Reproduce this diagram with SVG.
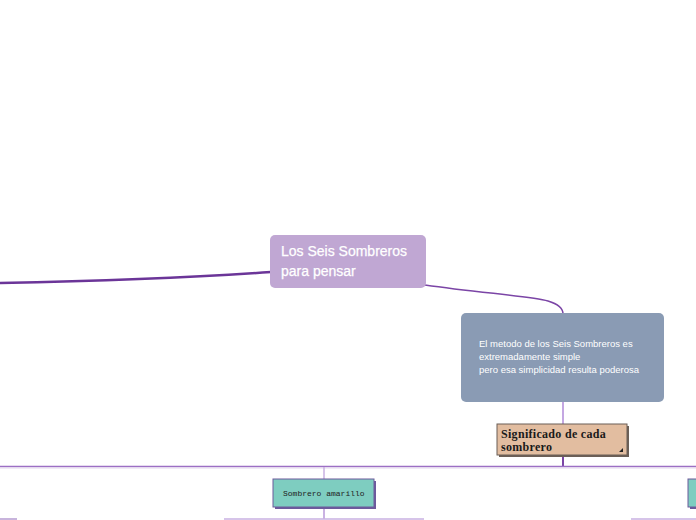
<svg xmlns="http://www.w3.org/2000/svg" width="696" height="520" viewBox="0 0 696 520">
<defs>
<style>
.conn{fill:none;stroke-linecap:butt}
.main text{font-family:"Liberation Sans",Arial,sans-serif;font-size:14px;fill:#ffffff;stroke:#ffffff;stroke-width:0.25}
.desc text{font-family:"Liberation Sans",Arial,sans-serif;font-size:9.5px;fill:#ffffff}
.sub text{font-family:"Liberation Serif","Times New Roman",serif;font-size:12px;font-weight:bold;letter-spacing:0.3px;fill:#1a1a1a}
.leaf text{font-family:"Liberation Mono","Courier New",monospace;font-size:8px;fill:#222222}
.leafbox{fill:#7ecdc0;stroke:#6c5a9c;stroke-width:1}
</style>
</defs>
<rect width="696" height="520" fill="#ffffff"/>
<g id="connectors">
<path class="conn" d="M0,283 C100,281 200,277 271,272" stroke="#6b3598" stroke-width="2.5"/>
<path class="conn" d="M425,285 C480,293 530,296 548,301 C558,304 563,309 563,314" stroke="#7b45a6" stroke-width="1.5"/>
<path class="conn" d="M563,402 L563,425" stroke="#b08ad8" stroke-width="1.5"/>
<path class="conn" d="M563,455 L563,466" stroke="#7b45a6" stroke-width="2"/>
<path class="conn" d="M0,466.5 L696,466.5" stroke="#9c6fc4" stroke-width="1.5"/>
<path class="conn" d="M0,468 L696,468" stroke="#e4d6ee" stroke-width="1"/>
<path class="conn" d="M324,467 L324,480" stroke="#c8b0e2" stroke-width="1.5"/>
<path class="conn" d="M324,507 L324,519" stroke="#b898d8" stroke-width="1.5"/>
<path class="conn" d="M224,519 L424,519" stroke="#c8b0e2" stroke-width="1.5"/>
<path class="conn" d="M631,519 L696,519" stroke="#c8b0e2" stroke-width="1.5"/>
</g>
<g id="node-main" class="main">
<rect x="270" y="235" width="156" height="53" rx="5" fill="#c0a7d3"/>
<text x="281" y="256">Los Seis Sombreros</text>
<text x="281" y="276">para pensar</text>
</g>
<g id="node-desc" class="desc">
<rect x="461" y="313" width="203" height="89" rx="5" fill="#8a9bb4"/>
<text x="479" y="347">El metodo de los Seis Sombreros es</text>
<text x="479" y="360">extremadamente simple</text>
<text x="479" y="373">pero esa simplicidad resulta poderosa</text>
</g>
<g id="node-significado" class="sub">
<rect x="499" y="426" width="130" height="31" fill="#6b5f57"/>
<rect x="497" y="424" width="130" height="31" fill="#e2bda0" stroke="#6b5f57" stroke-width="1"/>
<text x="501" y="438">Significado de cada</text>
<text x="501" y="451">sombrero</text>
<path d="M619,452 L623,452 L623,448 Z" fill="#222222"/>
</g>
<g id="node-amarillo" class="leaf">
<rect x="275" y="481" width="101" height="28" fill="#6c5a9c"/>
<rect x="273" y="479" width="101" height="28" class="leafbox"/>
<text x="283" y="496">Sombrero amarillo</text>
</g>
<g id="node-right">
<rect x="690" y="481" width="10" height="28" fill="#6c5a9c"/>
<rect x="688" y="479" width="12" height="28" class="leafbox"/>
</g>
<g id="node-left">
<rect x="-5" y="518" width="22" height="5" fill="#c8b4dc"/>
</g>
</svg>
